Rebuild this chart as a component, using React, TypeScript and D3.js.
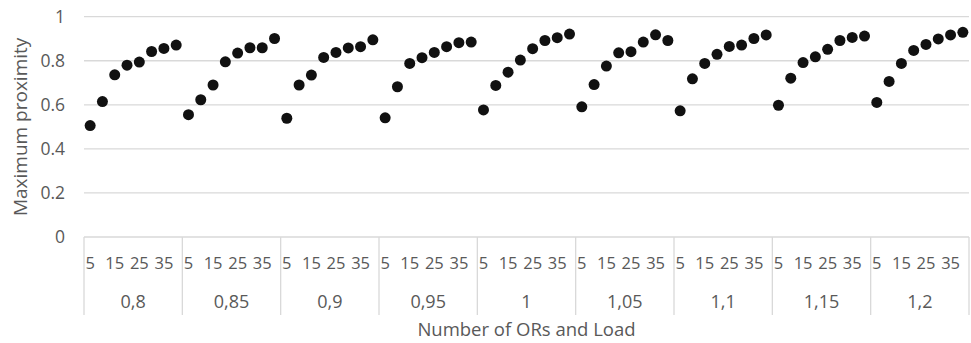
import React from "react";
import * as d3 from "d3";

// Load levels (outer category) and number of ORs (inner category)
const loads = ["0,8", "0,85", "0,9", "0,95", "1", "1,05", "1,1", "1,15", "1,2"];
const orCounts = [5, 10, 15, 20, 25, 30, 35, 40];
const shownOrLabels = [5, 15, 25, 35];
const yTicks = [0, 0.2, 0.4, 0.6, 0.8, 1];

// Maximum proximity per load, one value per OR count
const prox080 = [0.506, 0.615, 0.736, 0.78, 0.794, 0.842, 0.856, 0.871];
const prox085 = [0.555, 0.623, 0.69, 0.795, 0.835, 0.859, 0.859, 0.901];
const prox090 = [0.539, 0.69, 0.735, 0.815, 0.838, 0.858, 0.864, 0.895];
const prox095 = [0.541, 0.682, 0.788, 0.814, 0.838, 0.864, 0.882, 0.885];
const prox100 = [0.577, 0.688, 0.748, 0.803, 0.855, 0.892, 0.905, 0.921];
const prox105 = [0.591, 0.692, 0.776, 0.836, 0.841, 0.885, 0.918, 0.892];
const prox110 = [0.573, 0.718, 0.788, 0.829, 0.865, 0.871, 0.901, 0.917];
const prox115 = [0.598, 0.721, 0.792, 0.818, 0.852, 0.892, 0.906, 0.912];
const prox120 = [0.611, 0.706, 0.788, 0.847, 0.874, 0.899, 0.917, 0.929];
const series = [prox080, prox085, prox090, prox095, prox100, prox105, prox110, prox115, prox120];

const W = 971;
const H = 343;
const left = 84;
const right = 969;
const top = 16.7;
const bottom = 237;
const dividerEnd = 315;
const textColor = "#595959";
const gridColor = "#d9d9d9";
const font = "'Open Sans', sans-serif";

export default function App() {
  const xOuter = d3.scaleBand<string>().domain(loads).range([left, right]).padding(0);
  const xInner = d3
    .scaleBand<number>()
    .domain(orCounts)
    .range([0, xOuter.bandwidth()])
    .padding(0);
  const y = d3.scaleLinear().domain([0, 1]).range([bottom, top]);

  const cx = (load: string, n: number) => (xOuter(load) ?? 0) + (xInner(n) ?? 0) + xInner.bandwidth() / 2;

  const boundaries = [...loads.map((l) => xOuter(l) ?? 0), right];

  return (
    <svg
      width={W}
      height={H}
      style={{ position: "absolute", left: 0, top: 0, background: "#fff" }}
      fontFamily={font}
    >
      {/* horizontal gridlines */}
      {yTicks.map((t) => (
        <line
          key={"g" + t}
          x1={left}
          x2={right}
          y1={y(t)}
          y2={y(t)}
          stroke={gridColor}
          strokeWidth={1.3}
        />
      ))}
      {/* y tick labels */}
      {yTicks.map((t) => (
        <text
          key={"yt" + t}
          x={65}
          y={y(t)}
          dy="0.35em"
          textAnchor="end"
          fontSize={17.5}
          fill={textColor}
        >
          {t === 0 || t === 1 ? String(t) : t.toFixed(1)}
        </text>
      ))}
      {/* y axis title */}
      <text
        transform={`translate(20,${(top + bottom) / 2}) rotate(-90)`}
        textAnchor="middle"
        dy="0.35em"
        fontSize={19}
        fill={textColor}
      >
        Maximum proximity
      </text>

      {/* group dividers of the category axis */}
      {boundaries.map((bx, i) => (
        <line
          key={"d" + i}
          x1={bx}
          x2={bx}
          y1={bottom}
          y2={dividerEnd}
          stroke={gridColor}
          strokeWidth={1.3}
        />
      ))}

      {/* inner category labels */}
      {loads.map((l) =>
        shownOrLabels.map((n) => (
          <text
            key={l + "-" + n}
            x={cx(l, n)}
            y={263}
            dy="0.35em"
            textAnchor="middle"
            fontSize={16.5}
            fill={textColor}
          >
            {n}
          </text>
        ))
      )}
      {/* outer category labels */}
      {loads.map((l) => (
        <text
          key={"o" + l}
          x={(xOuter(l) ?? 0) + xOuter.bandwidth() / 2}
          y={301.5}
          dy="0.35em"
          textAnchor="middle"
          fontSize={18}
          fill={textColor}
        >
          {l}
        </text>
      ))}
      {/* x axis title */}
      <text x={(left + right) / 2} y={330} dy="0.35em" textAnchor="middle" fontSize={18.5} fill={textColor}>
        Number of ORs and Load
      </text>

      {/* points */}
      {loads.map((l, gi) =>
        orCounts.map((n, i) => (
          <circle key={"p" + gi + "-" + i} cx={cx(l, n)} cy={y(series[gi][i])} r={5.5} fill="#111111" />
        ))
      )}
    </svg>
  );
}
